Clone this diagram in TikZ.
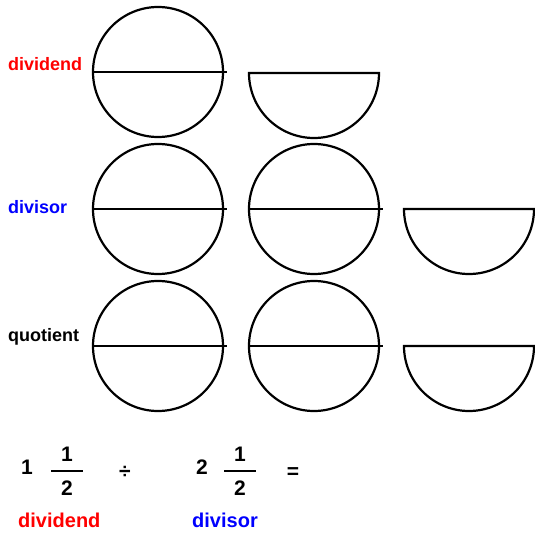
\documentclass[tikz,border=0pt]{standalone}
\usepackage{fontspec}
\setmainfont{Liberation Sans}
\begin{document}
\begin{tikzpicture}[x=1pt,y=1pt,
  shapeline/.style={line width=2.2pt, black},
  lbl/.style={font=\bfseries\fontsize{18}{20}\selectfont, inner sep=0pt, anchor=base west},
  blbl/.style={font=\bfseries\fontsize{20}{22}\selectfont, inner sep=0pt, anchor=base west},
  num/.style={font=\bfseries\fontsize{21}{24}\selectfont, inner sep=0pt, anchor=base}]
\useasboundingbox (0,0) rectangle (535,533);
% full circles
\foreach \cx/\cy in {158/461, 158/324, 314/324, 158/187, 314/187} {
  \draw[shapeline] (\cx,\cy) circle[radius=65];
  \draw[shapeline] (\cx-65,\cy) -- (\cx+69,\cy);
}
% half circles
\foreach \cx/\cy in {314/460, 469/324, 469/187} {
  \draw[shapeline] (\cx-65,\cy) arc[start angle=180, end angle=360, radius=65] -- cycle;
}
% row labels
\node[lbl, text=red] (l1) at (8,462) {dividend};
\node[lbl, text=blue] (l2) at (8,319) {divisor};
\node[lbl, text=black] (l3) at (8,191) {quotient};
% equation
\node[num] (w1) at (27,59) {1};
\node[num] (n1) at (67,72) {1};
\node[num] (d1) at (67,38) {2};
\draw[line width=2.5pt] (51,62) -- (83,62);
\node[num] (div) at (125,55) {÷};
\node[num] (w2) at (202,59) {2};
\node[num] (n2) at (240,72) {1};
\node[num] (d2) at (240,38) {2};
\draw[line width=2.5pt] (224,62) -- (256,62);
\node[num] (eq) at (293,55) {=};
\node[blbl, text=red] (b1) at (18,6) {dividend};
\node[blbl, text=blue] (b2) at (192,6) {divisor};
\end{tikzpicture}
\end{document}
